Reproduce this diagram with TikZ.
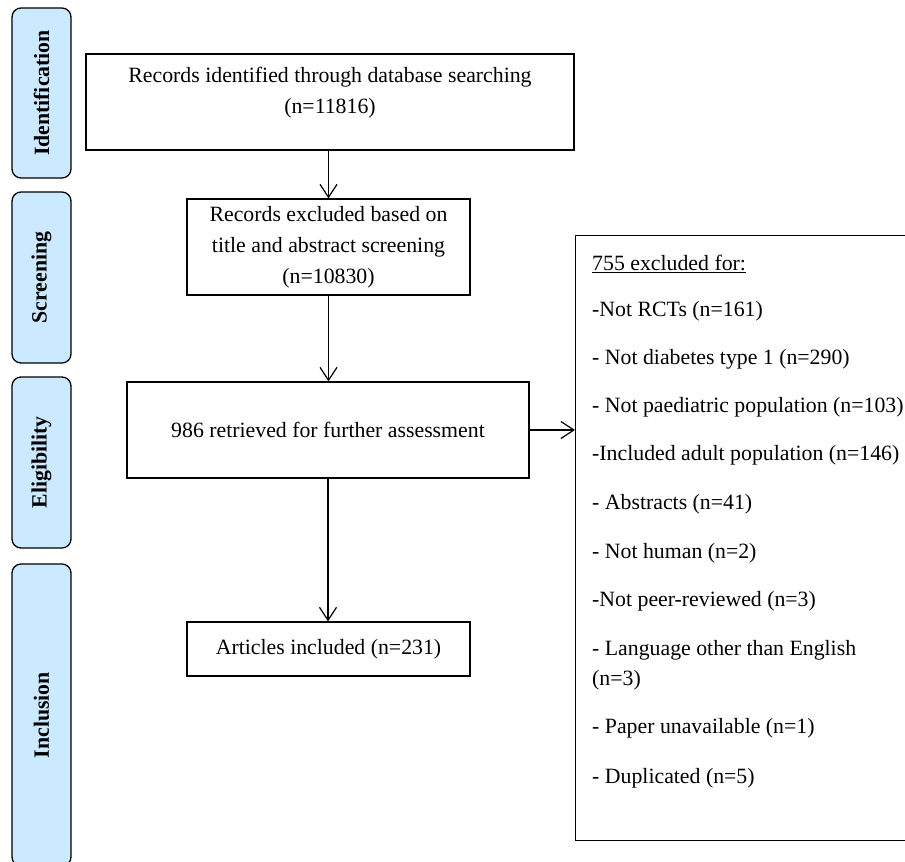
\documentclass[tikz,border=0pt]{standalone}
\usepackage{fontspec}
\setmainfont{Liberation Serif}
\usetikzlibrary{arrows.meta}
\definecolor{stageblue}{RGB}{204,234,255}
\begin{document}
\begin{tikzpicture}[x=1pt,y=-1pt,
  every node/.style={font=\fontsize{21.8}{31}\selectfont},
  box/.style={draw=black, line width=1.2pt, inner sep=0pt},
  stage/.style={draw=black, line width=1.3pt, fill=stageblue, rounded corners=9pt, inner sep=0pt, rotate=90, minimum height=59pt, font=\fontsize{21.8}{26}\selectfont\bfseries},
  arr/.style={draw=black, line width=1.2pt, -{Straight Barb[length=13pt,width=17pt,line width=1.2pt]}},
  item/.style={anchor=base west, inner sep=0pt}
]
\useasboundingbox (0,0) rectangle (905,862);
\clip (0,0) rectangle (905,862);

% stages
\node[stage, minimum width=170pt] (s1) at (41.5,93) {Identification};
\node[stage, minimum width=171pt] (s2) at (41.5,277.5) {Screening};
\node[stage, minimum width=171pt] (s3) at (41.5,462.5) {Eligibility};
\node[stage, minimum width=302pt] (s4) at (41.5,715) {Inclusion};

% main boxes
\node[box, minimum width=488pt, minimum height=96pt] (b1) at (330,102) {};
\node[align=center, inner sep=0pt] (t1) at (330,93) {Records identified through database searching\\(n=11816)};
\node[box, minimum width=283pt, minimum height=96pt, align=center] (b2) at (328.5,247) {Records excluded based on\\title and abstract screening\\(n=10830)};
\node[box, minimum width=402pt, minimum height=96pt] (b3) at (328,430) {986 retrieved for further assessment};
\node[box, minimum width=283pt, minimum height=54pt] (b4) at (328.5,649) {Articles included (n=231)};

% exclusion box
\node[box, minimum width=350pt, minimum height=605pt, anchor=north west] (rb) at (575,235) {};
\node[item] (r0) at (592,270) {\underline{755 excluded for:}};
\node[item] (r1) at (592,316) {-Not RCTs (n=161)};
\node[item] (r2) at (592,364) {- Not diabetes type 1 (n=290)};
\node[item] (r3) at (592,412) {- Not paediatric population (n=103)};
\node[item] (r4) at (592,460) {-Included adult population (n=146)};
\node[item] (r5) at (592,509) {- Abstracts (n=41)};
\node[item] (r6) at (592,558) {- Not human (n=2)};
\node[item] (r7) at (592,606) {-Not peer-reviewed (n=3)};
\node[item] (r8) at (592,655) {- Language other than English};
\node[item] (r9) at (592,685) {(n=3)};
\node[item] (r10) at (592,733) {- Paper unavailable (n=1)};
\node[item] (r11) at (592,783) {- Duplicated (n=5)};

% connectors
\draw[arr] (b1.south -| b2.north) -- (b2.north);
\draw[arr] (b2.south) -- (b2.south |- b3.north);
\draw[arr] (b3.south) -- (b3.south |- b4.north);
\draw[arr] (b3.east) -- (b3.east -| rb.west);
\end{tikzpicture}
\end{document}
